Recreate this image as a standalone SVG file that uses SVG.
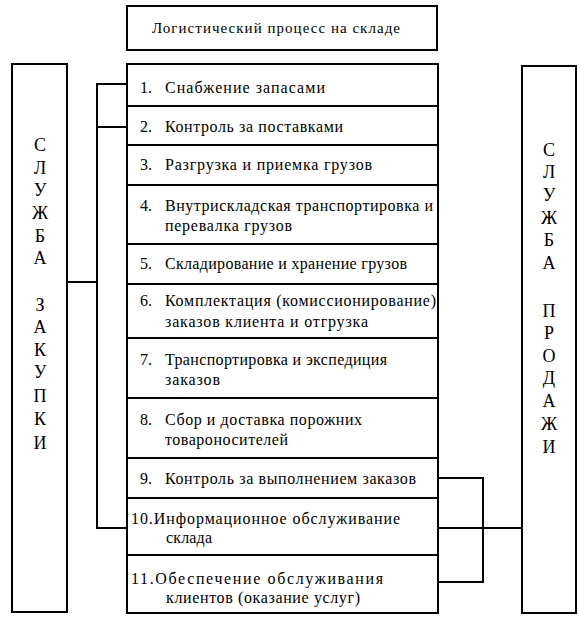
<svg xmlns="http://www.w3.org/2000/svg" width="580" height="624" viewBox="0 0 580 624">
<style>
  .box { fill: #fff; stroke: #000; stroke-width: 2; }
  .t { font-family: "Liberation Serif", "Times New Roman", serif; font-size: 16px; fill: #000; }
  .title { font-family: "Liberation Serif", "Times New Roman", serif; font-size: 15px; fill: #000; }
  .v { font-family: "Liberation Serif", "Times New Roman", serif; font-size: 18px; fill: #000; text-anchor: middle; }
  .ln { fill: none; stroke: #000; stroke-width: 2; }
</style>
<rect width="580" height="624" fill="#fff"/>

<g id="connectors">
  <polyline class="ln" points="127,84 97,84 97,528 127,528"/>
  <line class="ln" x1="97" y1="127" x2="127" y2="127"/>
  <line class="ln" x1="67" y1="282" x2="97" y2="282"/>
  <polyline class="ln" points="438,478 483,478 483,582 438,582"/>
  <line class="ln" x1="438" y1="528" x2="522" y2="528"/>
</g>

<g id="title">
  <rect class="box" x="127" y="6" width="310" height="44"/>
  <text class="title" x="152" y="33" textLength="248">Логистический процесс на складе</text>
</g>

<g id="step1">
  <rect class="box" x="127" y="64" width="311" height="42"/>
  <text class="t" x="140" y="93">1.</text>
  <text class="t" x="165" y="93" textLength="160">Снабжение запасами</text>
</g>
<g id="step2">
  <rect class="box" x="127" y="106" width="311" height="39"/>
  <text class="t" x="140" y="132">2.</text>
  <text class="t" x="165" y="132" textLength="178">Контроль за поставками</text>
</g>
<g id="step3">
  <rect class="box" x="127" y="145" width="311" height="40"/>
  <text class="t" x="140" y="170">3.</text>
  <text class="t" x="165" y="170" textLength="207">Разгрузка и приемка грузов</text>
</g>
<g id="step4">
  <rect class="box" x="127" y="185" width="311" height="59"/>
  <text class="t" x="140" y="211">4.</text>
  <text class="t" x="165" y="211" textLength="268">Внутрискладская транспортировка и</text>
  <text class="t" x="165" y="231" textLength="127">перевалка грузов</text>
</g>
<g id="step5">
  <rect class="box" x="127" y="244" width="311" height="40"/>
  <text class="t" x="140" y="269">5.</text>
  <text class="t" x="165" y="269" textLength="242">Складирование и хранение грузов</text>
</g>
<g id="step6">
  <rect class="box" x="127" y="284" width="311" height="54"/>
  <text class="t" x="140" y="306">6.</text>
  <text class="t" x="165" y="306" textLength="271">Комплектация (комиссионирование)</text>
  <text class="t" x="165" y="327" textLength="203">заказов клиента и отгрузка</text>
</g>
<g id="step7">
  <rect class="box" x="127" y="338" width="311" height="60"/>
  <text class="t" x="140" y="365">7.</text>
  <text class="t" x="165" y="365" textLength="222">Транспортировка и экспедиция</text>
  <text class="t" x="165" y="385" textLength="55">заказов</text>
</g>
<g id="step8">
  <rect class="box" x="127" y="398" width="311" height="60"/>
  <text class="t" x="140" y="425">8.</text>
  <text class="t" x="165" y="425" textLength="197">Сбор и доставка порожних</text>
  <text class="t" x="165" y="445" textLength="123">товароносителей</text>
</g>
<g id="step9">
  <rect class="box" x="127" y="458" width="311" height="40"/>
  <text class="t" x="140" y="484">9.</text>
  <text class="t" x="165" y="484" textLength="251">Контроль за выполнением заказов</text>
</g>
<g id="step10">
  <rect class="box" x="127" y="498" width="311" height="57"/>
  <text class="t" x="131" y="524" textLength="269">10.Информационное обслуживание</text>
  <text class="t" x="166" y="543" textLength="46">склада</text>
</g>
<g id="step11">
  <rect class="box" x="127" y="555" width="311" height="58"/>
  <text class="t" x="131" y="584" textLength="252">11.Обеспечение обслуживания</text>
  <text class="t" x="166" y="603" textLength="194">клиентов (оказание услуг)</text>
</g>

<g id="purchasing">
  <rect class="box" x="12" y="64" width="55" height="548"/>
  <text class="v" x="40" y="151">С</text>
  <text class="v" x="40" y="174">Л</text>
  <text class="v" x="40" y="196">У</text>
  <text class="v" x="40" y="219">Ж</text>
  <text class="v" x="40" y="242">Б</text>
  <text class="v" x="40" y="264">А</text>
  <text class="v" x="40" y="311">З</text>
  <text class="v" x="40" y="333">А</text>
  <text class="v" x="40" y="356">К</text>
  <text class="v" x="40" y="378">У</text>
  <text class="v" x="40" y="402">П</text>
  <text class="v" x="40" y="425">К</text>
  <text class="v" x="40" y="449">И</text>
</g>

<g id="sales">
  <rect class="box" x="522" y="66" width="54" height="547"/>
  <text class="v" x="549" y="156">С</text>
  <text class="v" x="549" y="178">Л</text>
  <text class="v" x="549" y="201">У</text>
  <text class="v" x="549" y="224">Ж</text>
  <text class="v" x="549" y="246">Б</text>
  <text class="v" x="549" y="269">А</text>
  <text class="v" x="549" y="317">П</text>
  <text class="v" x="549" y="339">Р</text>
  <text class="v" x="549" y="362">О</text>
  <text class="v" x="549" y="384">Д</text>
  <text class="v" x="549" y="407">А</text>
  <text class="v" x="549" y="430">Ж</text>
  <text class="v" x="549" y="453">И</text>
</g>
</svg>
